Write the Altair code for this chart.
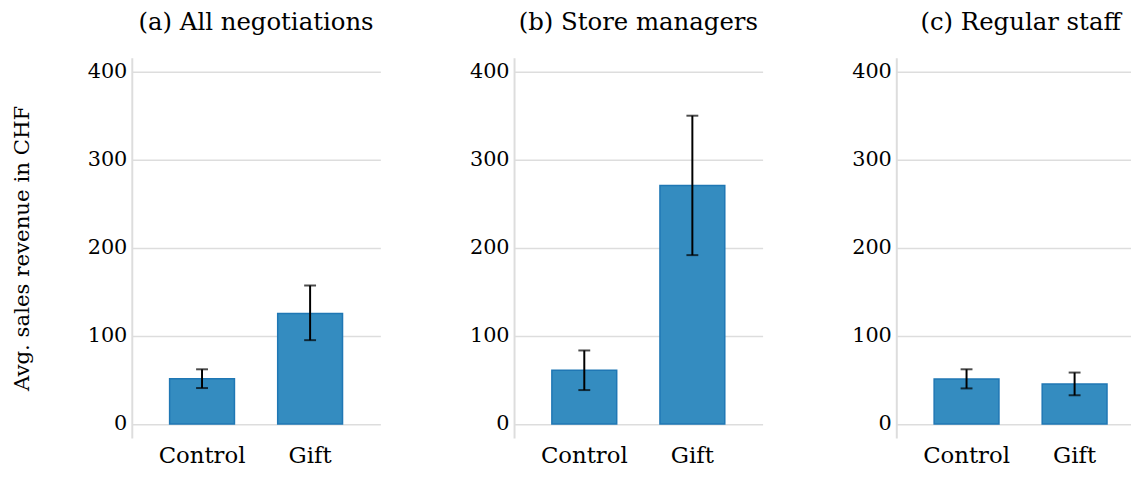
import altair as alt
import pandas as pd

panel_titles = ["(a) All negotiations", "(b) Store managers", "(c) Regular staff"]
groups = ["Control", "Gift"]
means = [[51.3, 125.5], [61.0, 271.0], [51.0, 45.3]]
lows = [[40.8, 95.2], [38.5, 191.8], [40.4, 32.6]]
highs = [[62.1, 157.3], [83.5, 350.2], [62.1, 58.4]]
y_ticks = [0, 100, 200, 300, 400]

FONT = "DejaVu Serif"
BAR_FILL = "#348cc0"
BAR_STROKE = "#1f77b4"
GRID = "#dddddd"
PANEL_W = 251


def panel(i, width, pad_outer, align):
    df = pd.DataFrame({"group": groups, "mean": means[i], "lo": lows[i], "hi": highs[i]})
    xenc = alt.X("group:N", sort=groups, title=None,
                 scale=alt.Scale(paddingInner=0.4, paddingOuter=pad_outer, align=align),
                 axis=alt.Axis(labelAngle=0, ticks=False, domain=False, grid=False))
    yscale = alt.Scale(domain=[-16, 416], nice=False, zero=False)
    ytitle = "Avg. sales revenue in CHF" if i == 0 else None
    yaxis = alt.Axis(values=y_ticks, title=ytitle)
    base = alt.Chart(df)
    bars = base.mark_bar(color=BAR_FILL, stroke=BAR_STROKE, strokeWidth=1.5).encode(
        x=xenc, y=alt.Y("mean:Q", scale=yscale, axis=yaxis), y2=alt.datum(0)
    )
    rule = base.mark_rule(color="black", strokeWidth=2).encode(
        x=xenc, y=alt.Y("lo:Q", scale=yscale, axis=yaxis), y2="hi:Q"
    )
    cap_lo = base.mark_tick(color="black", size=12, thickness=2, orient="horizontal").encode(
        x=xenc, y=alt.Y("lo:Q", scale=yscale, axis=yaxis)
    )
    cap_hi = base.mark_tick(color="black", size=12, thickness=2, orient="horizontal").encode(
        x=xenc, y=alt.Y("hi:Q", scale=yscale, axis=yaxis)
    )
    return alt.layer(bars, rule, cap_lo, cap_hi).properties(
        width=width, height=384,
        title=alt.TitleParams(panel_titles[i], anchor="middle", dx=(PANEL_W - width) / 2),
    )


chart = (
    alt.hconcat(
        panel(0, PANEL_W, 0.35, 0.5),
        panel(1, PANEL_W, 0.35, 0.5),
        panel(2, 237, 0.286, 0.612),
        spacing=89,
    )
    .configure_view(strokeWidth=0)
    .configure_axis(
        labelFont=FONT, labelColor="black",
        titleFont=FONT, titleFontSize=21.5, titleFontWeight="normal", titleColor="black",
    )
    .configure_axisY(
        ticks=False, domainColor=GRID, domainWidth=2, gridColor=GRID, gridWidth=1.5,
        labelPadding=5, labelFontSize=21, titlePadding=54,
    )
    .configure_axisX(ticks=False, domain=False, grid=False, labelPadding=7, labelAngle=0,
                     labelFontSize=23)
    .configure_title(font=FONT, fontSize=24.6, fontWeight="normal", color="black", offset=22)
    .properties(padding={"left": 3, "top": 0, "right": 0, "bottom": 0})
)

chart.save("out.html", embed_options={"renderer": "svg", "actions": False})
